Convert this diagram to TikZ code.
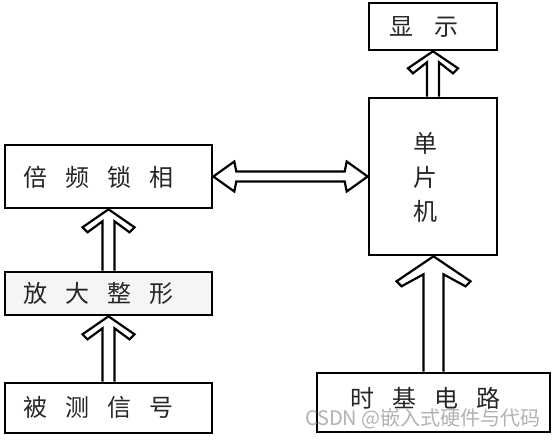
\documentclass[tikz,border=0pt]{standalone}
\usepackage{fontspec}
\setmainfont{Noto Sans CJK SC}
\usetikzlibrary{calc}
\tikzset{
  box/.style={draw=black, line width=2.6pt, fill=white, rectangle, inner sep=0pt},
  lbl/.style={inner sep=0pt, text=black!85, font=\fontsize{24}{34}\selectfont},
  arrline/.style={draw=black, line width=2.2pt, fill=white, line join=miter},
  wm/.style={inner sep=0pt, text=black!30, font=\fontsize{20}{22}\selectfont}
}
\newcommand\gp{\hspace{18pt}}
% hollow up arrow: from node #1 (north) to node #2 (south); #3 shaft half width, #4 head half width, #5 barb depth, #6 joint depth
\newcommand\hollowup[6]{%
  \draw[arrline] let \p1=(#1.north), \p2=(#2.south) in
    (\x1-#3, \y1) -- (\x1-#3, \y2-#6) -- (\x1-#4+5pt, \y2-#5-5pt) -- (\x1-#4, \y2-#5)
    -- (\x1, \y2) -- (\x1+#4, \y2-#5) -- (\x1+#4-5pt, \y2-#5-5pt) -- (\x1+#3, \y2-#6) -- (\x1+#3, \y1);
}
\begin{document}
\begin{tikzpicture}[x=1pt,y=-1pt]
\useasboundingbox (0,0) rectangle (555,440);
\fill[white] (0,0) rectangle (555,440);

% boxes
\node[box, minimum width=128pt, minimum height=47pt] (disp) at (433,26.5) {};
\node[box, minimum width=128pt, minimum height=157pt] (mcu) at (433,176.5) {};
\node[box, minimum width=233pt, minimum height=59pt] (timer) at (433.5,402.5) {};
\node[box, minimum width=207pt, minimum height=63pt] (pll) at (108.5,176.5) {};
\node[box, minimum width=207pt, minimum height=43pt, fill=black!4] (amp) at (108.5,293.5) {};
\node[box, minimum width=207pt, minimum height=50pt] (sig) at (108.5,408) {};

% labels
\node[lbl] (dispt) at (424,27) {显\hspace{21pt}示};
\node[lbl, align=center] (mcut) at (425,177) {单\\片\\机};
\node[lbl] (timert) at (425,398) {时\gp 基\gp 电\gp 路};
\node[lbl] (pllt) at (98.5,177) {倍\gp 频\gp 锁\gp 相};
\node[lbl] (ampt) at (98.5,293) {放\gp 大\gp 整\gp 形};
\node[lbl] (sigt) at (98.5,407) {被\gp 测\gp 信\gp 号};

% arrows
\hollowup{sig}{amp}{6pt}{26pt}{18pt}{12pt}
\hollowup{amp}{pll}{6pt}{26pt}{18pt}{12pt}
\hollowup{mcu}{disp}{6pt}{25pt}{17pt}{11pt}
\hollowup{timer}{mcu}{10pt}{37pt}{25pt}{18pt}

\draw[arrline] let \p1=(pll.east), \p2=(mcu.west) in
  (\x1, \y1) -- (\x1+21pt, \y1+15pt) -- (\x1+23pt, \y1+5pt) -- (\x2-23pt, \y1+5pt)
  -- (\x2-21pt, \y1+15pt) -- (\x2, \y1) -- (\x2-21pt, \y1-15pt) -- (\x2-23pt, \y1-5pt)
  -- (\x1+23pt, \y1-5pt) -- (\x1+21pt, \y1-15pt) -- cycle;

% watermark
\node[wm, anchor=east] (wmark) at (541,419) {CSDN @嵌入式硬件与代码};
\end{tikzpicture}
\end{document}
